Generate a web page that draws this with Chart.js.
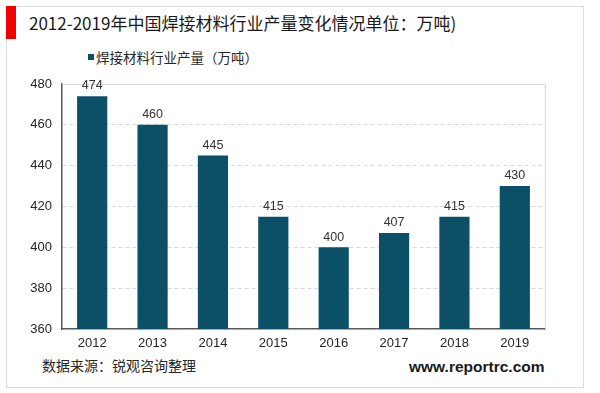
<!DOCTYPE html>
<html>
<head>
<meta charset="utf-8">
<script src="https://cdn.jsdelivr.net/npm/chart.js@4.4.1/dist/chart.umd.min.js"></script>
<style>
  body { margin: 0; background: #fff; }
  #wrap { position: relative; width: 600px; height: 393px; overflow: hidden; }
  #frame { position: absolute; left: 6px; top: 6px; width: 576px; height: 380px; border: 1px solid #dcdcdc; }
  #redbar { position: absolute; left: 6px; top: 6px; width: 10px; height: 33px; background: #f00000; }
  .txt { position: absolute; white-space: nowrap; font-family: "Noto Sans CJK SC", sans-serif; color: #1a1a1a; line-height: 1; }
  #title { left: 29px; top: 14px; font-size: 17px; }
  #legend { left: 88px; top: 51px; font-size: 13.5px; color: #262626; }
  #legend i { display: inline-block; width: 6px; height: 6px; background: #0c5068; margin-right: 2px; vertical-align: 3px; }
  #source { left: 42px; top: 358px; font-size: 14px; color: #262626; }
  #site { left: 409px; top: 359px; font-family: "Liberation Sans", Arial, sans-serif; font-weight: bold; font-size: 15.5px; color: #1a1a1a; }
  canvas { position: absolute; left: 0; top: 0; }
</style>
</head>
<body>
<div id="wrap">
  <div id="frame"></div>
  <div id="redbar"></div>
  <div class="txt" id="title">2012-2019年中国焊接材料行业产量变化情况单位：万吨)</div>
  <div class="txt" id="legend"><i></i>焊接材料行业产量（万吨）</div>
  <div class="txt" id="source">数据来源：锐观咨询整理</div>
  <div class="txt" id="site">www.reportrc.com</div>
  <canvas id="grafico" width="600" height="393"></canvas>
</div>
<script>
var anos = ["2012", "2013", "2014", "2015", "2016", "2017", "2018", "2019"];
var producao = [474, 460, 445, 415, 400, 407, 415, 430];
var eixoMin = 360;
var eixoMax = 480;
var passo = 20;

var corBarra = "#0c5068";
var fonteEixo = { family: "'Liberation Sans', Arial, sans-serif", size: 13 };

// rotulos em cima das barras
var rotulos = {
    id: "rotulos",
    afterDatasetsDraw: function (chart) {
        var ctx = chart.ctx;
        var meta = chart.getDatasetMeta(0);
        ctx.save();
        ctx.font = "12.5px 'Liberation Sans', Arial, sans-serif";
        ctx.fillStyle = "#333333";
        ctx.textAlign = "center";
        ctx.textBaseline = "bottom";
        meta.data.forEach(function (barra, i) {
            ctx.fillText(producao[i], barra.x, barra.y - 4);
        });
        ctx.restore();
    }
};

// borda clara em cima e a direita da area do grafico
var moldura = {
    id: "moldura",
    beforeDatasetsDraw: function (chart) {
        var a = chart.chartArea;
        var ctx = chart.ctx;
        ctx.save();
        ctx.strokeStyle = "#d9d9d9";
        ctx.lineWidth = 1;
        ctx.beginPath();
        ctx.moveTo(a.left, Math.round(a.top) + 0.5);
        ctx.lineTo(Math.round(a.right) + 0.5, Math.round(a.top) + 0.5);
        ctx.lineTo(Math.round(a.right) + 0.5, a.bottom);
        ctx.stroke();
        ctx.restore();
    }
};

function carregarGrafico() {
    var ctx = document.getElementById("grafico");
    new Chart(ctx, {
        type: "bar",
        data: {
            labels: anos,
            datasets: [{
                label: "焊接材料行业产量（万吨）",
                data: producao,
                backgroundColor: corBarra,
                borderWidth: 0,
                barPercentage: 0.5,
                categoryPercentage: 1
            }]
        },
        options: {
            responsive: false,
            animation: false,
            layout: { padding: { left: 0, top: 84, right: 55, bottom: 44 } },
            plugins: {
                legend: { display: false },
                tooltip: { enabled: false }
            },
            scales: {
                x: {
                    grid: { display: false, drawTicks: false },
                    border: { display: true, color: "#595959", width: 1.5 },
                    ticks: { color: "#262626", font: fonteEixo, padding: 7 },
                    afterFit: function (s) { s.height = 20; }
                },
                y: {
                    min: eixoMin,
                    max: eixoMax,
                    ticks: { stepSize: passo, color: "#262626", font: fonteEixo, padding: 10 },
                    grid: {
                        drawTicks: false,
                        color: function (c) {
                            if (c.tick && (c.tick.value === eixoMin || c.tick.value === eixoMax)) return "rgba(0,0,0,0)";
                            return "#d9d9d9";
                        }
                    },
                    border: { display: true, color: "#595959", width: 1.5, dash: [4, 3] },
                    afterFit: function (s) { s.width = 62; }
                }
            }
        },
        plugins: [moldura, rotulos]
    });
}

window.onload = function () {
    carregarGrafico();
};
</script>
</body>
</html>
